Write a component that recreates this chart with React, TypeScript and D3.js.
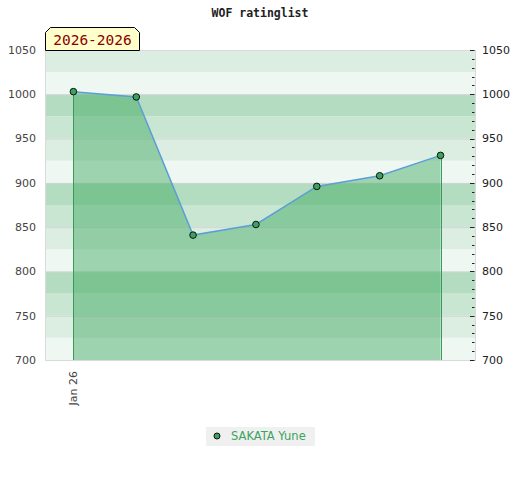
import { useEffect, useRef } from "react";
import * as d3 from "d3";

// Data
const chartTitle = "WOF ratinglist";
const periodLabel = "2026-2026";
const playerName = "SAKATA Yune";
const ratingDates = ["2026-01-01", "2026-02-01", "2026-03-01", "2026-04-01", "2026-05-01", "2026-06-01", "2026-07-01"];
const ratings = [1003, 997, 841, 853, 896, 908, 931];
const yTicks = [700, 750, 800, 850, 900, 950, 1000, 1050];
const xTickDates = ["2026-01-01"];

// Band shades, repeating every 100 rating points
const BAND_COLORS = ["#eff7f2", "#dcede2", "#c9e6d3", "#b3dcc0"];
const GREEN = "#3aa35e";

const W = 520;
const H = 480;

const App = () => {
  const svgRef = useRef<SVGSVGElement>(null);

  useEffect(() => {
    document.body.style.margin = "0";
    if (!svgRef.current) return;
    const svg = d3.select(svgRef.current);
    svg.selectAll("*").remove();

    const margin = { top: 50, right: 45, bottom: 120, left: 45 };
    const innerW = W - margin.left - margin.right;
    const innerH = H - margin.top - margin.bottom;

    const parse = d3.timeParse("%Y-%m-%d");
    const data = ratingDates.map((d, i) => ({ date: parse(d)!, value: ratings[i] }));

    const first = data[0].date;
    const last = data[data.length - 1].date;
    const x = d3
      .scaleTime()
      .domain([d3.timeDay.offset(first, -14), d3.timeDay.offset(last, 17)])
      .range([0, innerW]);
    const y = d3.scaleLinear().domain([700, 1050]).range([innerH, 0]);

    const g = svg.append("g").attr("transform", `translate(${margin.left},${margin.top})`);

    // Background bands
    g.selectAll("rect.band")
      .data(d3.range(700, 1050, 25))
      .enter()
      .append("rect")
      .attr("x", 0)
      .attr("width", innerW)
      .attr("y", (d) => y(d + 25))
      .attr("height", (d) => y(d) - y(d + 25))
      .attr("fill", (d) => BAND_COLORS[(d % 100) / 25]);

    // Grid lines
    g.selectAll("line.grid")
      .data(yTicks)
      .enter()
      .append("line")
      .attr("x1", 0)
      .attr("x2", innerW)
      .attr("y1", (d) => y(d) + 0.5)
      .attr("y2", (d) => y(d) + 0.5)
      .attr("stroke", "#d4d4d4");

    // Border
    g.append("rect")
      .attr("x", 0.5)
      .attr("y", 0.5)
      .attr("width", innerW)
      .attr("height", innerH)
      .attr("fill", "none")
      .attr("stroke", "#dadada");

    // Area
    const area = d3
      .area<{ date: Date; value: number }>()
      .x((d) => x(d.date))
      .y0(innerH)
      .y1((d) => y(d.value));
    g.append("path")
      .datum(data)
      .attr("d", area)
      .attr("fill", "rgb(58,167,90)")
      .attr("fill-opacity", 0.45);

    // Vertical edges of the area
    [data[0], data[data.length - 1]].forEach((d) => {
      g.append("line")
        .attr("x1", Math.round(x(d.date)) + 0.5)
        .attr("x2", Math.round(x(d.date)) + 0.5)
        .attr("y1", y(d.value))
        .attr("y2", innerH)
        .attr("stroke", "#3a9a5a")
        .attr("stroke-width", 1);
    });

    // Line
    const line = d3
      .line<{ date: Date; value: number }>()
      .x((d) => x(d.date))
      .y((d) => y(d.value));
    g.append("path")
      .datum(data)
      .attr("d", line)
      .attr("fill", "none")
      .attr("stroke", "#5b9fd6")
      .attr("stroke-width", 1.5);

    // Points
    g.selectAll("circle.pt")
      .data(data)
      .enter()
      .append("circle")
      .attr("cx", (d) => x(d.date))
      .attr("cy", (d) => y(d.value))
      .attr("r", 3.3)
      .attr("fill", GREEN)
      .attr("stroke", "#111")
      .attr("stroke-width", 1);

    // Left axis labels
    g.selectAll("text.yl")
      .data(yTicks)
      .enter()
      .append("text")
      .attr("x", -9)
      .attr("y", (d) => y(d))
      .attr("dy", "0.35em")
      .attr("text-anchor", "end")
      .style("font-family", "DejaVu Sans, sans-serif")
      .style("font-size", "11px")
      .attr("fill", "#444")
      .text((d) => d);

    // Right axis ticks (inside) and labels
    g.selectAll("line.rt")
      .data(d3.range(700, 1051, 10))
      .enter()
      .append("line")
      .attr("x1", (d) => innerW - (d % 50 === 0 ? 5 : 3))
      .attr("x2", innerW - 0.5)
      .attr("y1", (d) => Math.round(y(d)) + 0.5)
      .attr("y2", (d) => Math.round(y(d)) + 0.5)
      .attr("stroke", "#222");

    g.selectAll("text.yr")
      .data(yTicks)
      .enter()
      .append("text")
      .attr("x", innerW + 7)
      .attr("y", (d) => y(d))
      .attr("dy", "0.35em")
      .style("font-family", "DejaVu Sans, sans-serif")
      .style("font-size", "11px")
      .attr("fill", "#222")
      .text((d) => d);

    // X tick labels (rotated)
    const fmt = d3.timeFormat("%b %y");
    xTickDates.forEach((s) => {
      const d = parse(s)!;
      g.append("text")
        .attr("transform", `translate(${x(d) + 4},${innerH + 11}) rotate(-90)`)
        .attr("text-anchor", "end")
        .style("font-family", "DejaVu Sans, sans-serif")
        .style("font-size", "11px")
        .attr("fill", "#444")
        .text(fmt(d));
    });

    // Title
    svg
      .append("text")
      .attr("x", W / 2)
      .attr("y", 17)
      .attr("text-anchor", "middle")
      .style("font-family", "DejaVu Sans Mono, monospace")
      .style("font-weight", "bold")
      .style("font-size", "11.5px")
      .attr("fill", "#222")
      .text(chartTitle);

    // Period label box with clipped top corners
    const bx0 = margin.left;
    const bx1 = 140;
    const by0 = 27;
    const by1 = margin.top;
    svg
      .append("path")
      .attr(
        "d",
        `M${bx0 + 0.5},${by1 + 0.5} L${bx0 + 0.5},${by0 + 5.5} L${bx0 + 5.5},${by0 + 0.5} L${bx1 - 5.5},${by0 + 0.5} L${bx1 - 0.5},${by0 + 5.5} L${bx1 - 0.5},${by1 + 0.5} Z`
      )
      .attr("fill", "#ffffcc")
      .attr("stroke", "#000");
    svg
      .append("text")
      .attr("x", (bx0 + bx1) / 2)
      .attr("y", 45)
      .attr("text-anchor", "middle")
      .style("font-family", "DejaVu Sans Mono, monospace")
      .style("font-size", "14.5px")
      .attr("fill", "#8b0000")
      .text(periodLabel);

    // Legend
    const lg = svg.append("g").attr("transform", "translate(206,427)");
    lg.append("rect").attr("width", 109).attr("height", 19).attr("fill", "#f0f0f0");
    lg.append("circle")
      .attr("cx", 11)
      .attr("cy", 9)
      .attr("r", 3)
      .attr("fill", GREEN)
      .attr("stroke", "#111");
    lg.append("text")
      .attr("x", 25)
      .attr("y", 13)
      .style("font-family", "DejaVu Sans, sans-serif")
      .style("font-size", "11.5px")
      .attr("fill", "#3aa35e")
      .text(playerName);
  }, []);

  return <svg ref={svgRef} width={W} height={H} style={{ display: "block" }} />;
};

export default App;
